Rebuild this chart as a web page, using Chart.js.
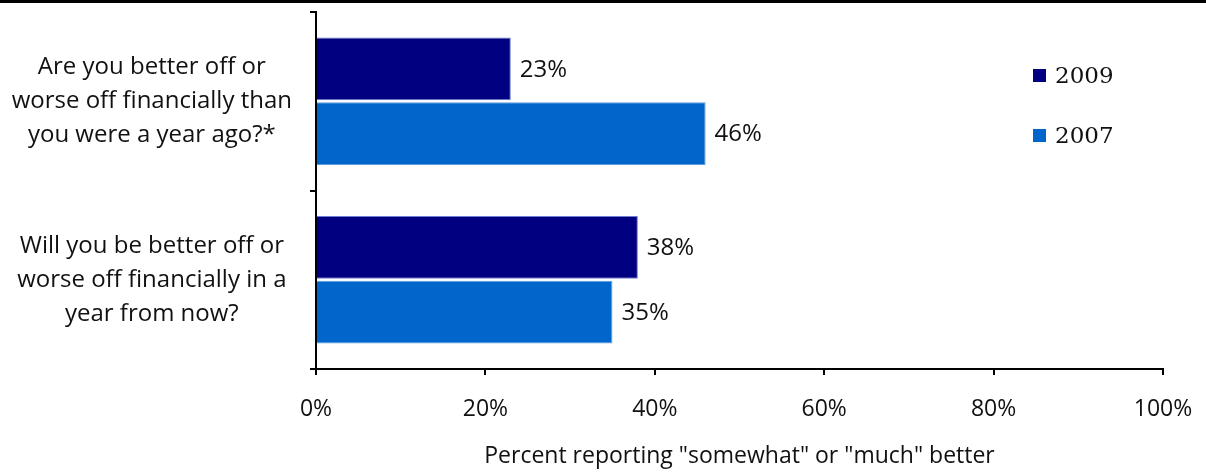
<!DOCTYPE html>
<html lang="en">
<head>
<meta charset="UTF-8" />
<title>Better or worse off financially</title>
<script src="https://cdn.jsdelivr.net/npm/chart.js"></script>
<style>
  body {
    margin: 0;
    background: #fff;
  }
  #wrap {
    width: 1206px;
    height: 472px;
    position: relative;
  }
</style>
</head>
<body>

<div id="wrap">
  <canvas id="finChart" width="1206" height="472"></canvas>
</div>

<script>
  // data
  const questions = [
    ['Are you better off or', 'worse off financially than', 'you were a year ago?*'],
    ['Will you be better off or', 'worse off financially in a', 'year from now?']
  ];
  const years = ['2009', '2007'];
  const values2009 = [23, 38];
  const values2007 = [46, 35];
  const xTicks = [0, 20, 40, 60, 80, 100];

  const colors = ['#000080', '#0066CC'];
  const FONT = '"Open Sans", sans-serif';

  // black rule across the top + value labels + legend
  const extras = {
    id: 'extras',
    afterDraw(chart) {
      const ctx = chart.ctx;
      ctx.save();
      ctx.fillStyle = '#000';
      ctx.fillRect(0, 0, chart.width, 3);

      ctx.font = '24px ' + FONT;
      ctx.textAlign = 'left';
      ctx.textBaseline = 'middle';
      chart.data.datasets.forEach((ds, i) => {
        chart.getDatasetMeta(i).data.forEach((bar, j) => {
          ctx.fillStyle = '#111';
          ctx.fillText(ds.data[j] + '%', bar.x + 9, bar.y + 1);
        });
      });

      ctx.font = '23px "DejaVu Serif", serif';
      years.forEach((y, i) => {
        const cy = 76 + i * 60;
        ctx.fillStyle = colors[i];
        ctx.fillRect(1033, cy - 7, 13, 13);
        ctx.fillStyle = '#111';
        ctx.fillText(y, 1055, cy + 1);
      });
      ctx.restore();
    }
  };

  new Chart(document.getElementById('finChart'), {
    type: 'bar',
    data: {
      labels: questions,
      datasets: [
        {
          label: years[0],
          data: values2009,
          backgroundColor: colors[0],
          borderColor: '#6f7fd0',
          borderWidth: 1,
          barPercentage: 0.97,
          categoryPercentage: 0.725
        },
        {
          label: years[1],
          data: values2007,
          backgroundColor: colors[1],
          borderColor: '#5a9be0',
          borderWidth: 1,
          barPercentage: 0.97,
          categoryPercentage: 0.725
        }
      ]
    },
    options: {
      indexAxis: 'y',
      responsive: false,
      animation: false,
      layout: { padding: { top: 12, right: 43 } },
      plugins: {
        legend: { display: false },
        tooltip: { enabled: false }
      },
      scales: {
        x: {
          min: 0,
          max: 100,
          afterBuildTicks(scale) {
            scale.ticks = xTicks.map(v => ({ value: v }));
          },
          afterFit(scale) {
            scale.height = 103;
            scale.paddingLeft = 0;
            scale.paddingRight = 0;
          },
          grid: { drawOnChartArea: false, drawTicks: true, tickLength: 6, color: '#000', lineWidth: 2 },
          border: { color: '#000', width: 2 },
          ticks: {
            color: '#111',
            font: { family: FONT, size: 23 },
            padding: 21,
            callback: v => v + '%'
          },
          title: {
            display: true,
            text: 'Percent reporting "somewhat" or "much" better',
            color: '#111',
            font: { family: FONT, size: 23 },
            padding: { top: 12, bottom: 2 }
          }
        },
        y: {
          afterFit(scale) {
            scale.width = 316;
            scale.paddingTop = 0;
            scale.paddingBottom = 0;
          },
          grid: { drawOnChartArea: false, drawTicks: true, tickLength: 6, color: '#000', lineWidth: 2 },
          border: { color: '#000', width: 2 },
          ticks: {
            color: '#111',
            font: { family: FONT, size: 24, lineHeight: 1.42 },
            crossAlign: 'center',
            padding: 18
          }
        }
      }
    },
    plugins: [extras]
  });
</script>

</body>
</html>
